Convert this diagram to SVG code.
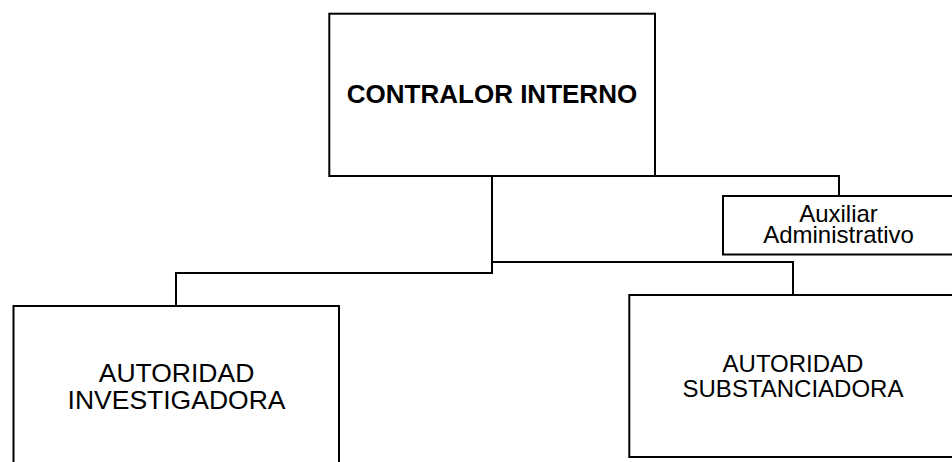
<svg xmlns="http://www.w3.org/2000/svg" width="952" height="462" viewBox="0 0 952 462">
<style>
.box{fill:#fff;stroke:#000;stroke-width:2}
.ln{fill:none;stroke:#000;stroke-width:2}
text{font-family:"Liberation Sans",Arial,sans-serif;fill:#000;text-anchor:middle}
.b{font-weight:bold}
</style>
<rect width="952" height="462" fill="#fff"/>
<g id="connectors">
<polyline class="ln" points="655,176 839,176 839,196"/>
<polyline class="ln" points="492,176 492,273 176,273 176,306"/>
<polyline class="ln" points="492,262 793,262 793,295"/>
</g>
<g id="contralor">
<rect class="box" x="329.3" y="13.7" width="325.7" height="162.3"/>
<text class="b" x="492" y="103" font-size="26">CONTRALOR INTERNO</text>
</g>
<g id="auxiliar">
<rect class="box" x="723" y="196" width="240" height="58.5"/>
<text x="838.5" y="221.7" font-size="24">Auxiliar</text>
<text x="838.5" y="243.3" font-size="24">Administrativo</text>
</g>
<g id="investigadora">
<rect class="box" x="13.5" y="306" width="325.5" height="200"/>
<text x="176.5" y="381.7" font-size="26.5">AUTORIDAD</text>
<text x="176.5" y="409.3" font-size="26.5">INVESTIGADORA</text>
</g>
<g id="substanciadora">
<rect class="box" x="629.3" y="295" width="340" height="162"/>
<text x="793" y="371.7" font-size="24">AUTORIDAD</text>
<text x="793" y="396.7" font-size="24">SUBSTANCIADORA</text>
</g>
</svg>
